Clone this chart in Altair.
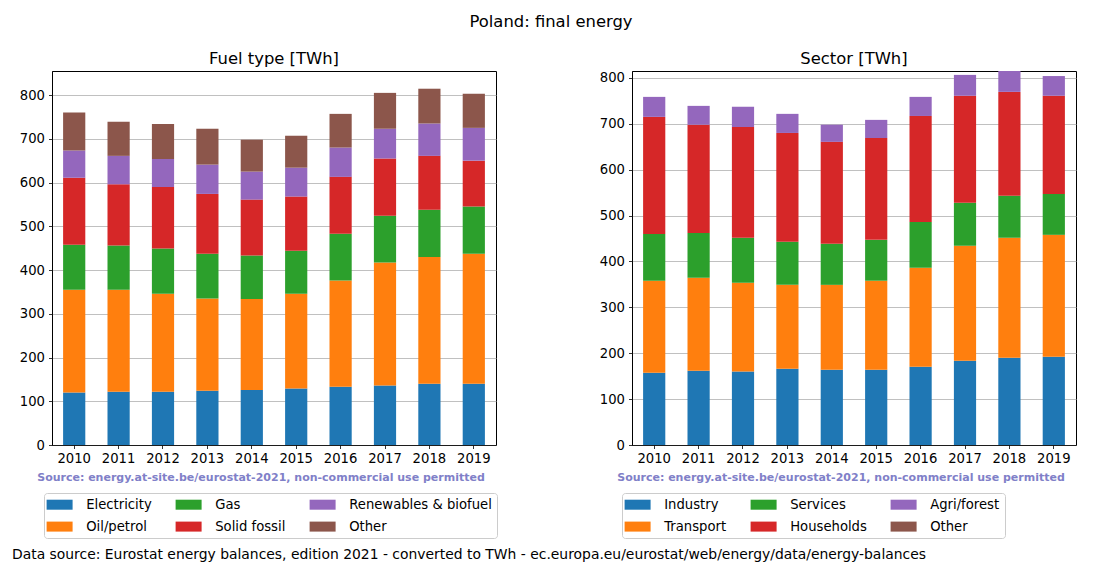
import altair as alt
import pandas as pd

years = [str(y) for y in range(2010, 2020)]

# Fuel type [TWh]
fuel_names = ["Electricity", "Oil/petrol", "Gas", "Solid fossil", "Renewables & biofuel", "Other"]
electricity = [120, 122, 122, 124, 126, 129, 133, 136, 140, 140]
oil_petrol = [235, 233, 224, 211, 208, 217, 243, 281, 290, 297]
gas = [103, 101, 103, 102, 99, 98, 107, 107, 108, 108]
solid_fossil = [153, 140, 141, 137, 128, 124, 130, 131, 123, 105]
renewables = [62, 65, 64, 67, 64, 66, 67, 68, 74, 75]
other_fuel = [87, 78, 80, 82, 73, 73, 77, 82, 79.5, 78]

# Sector [TWh]
sector_names = ["Industry", "Transport", "Services", "Households", "Agri/forest", "Other"]
industry = [157.5, 162, 160, 166, 164, 164, 170.6, 183.7, 190, 192.4]
transport = [200.5, 202.4, 193.5, 183, 185, 194, 215.4, 250.3, 261.5, 265.6]
services = [102, 97.6, 98, 94, 89.5, 89, 100, 94, 91.5, 89]
households = [255, 236, 241.5, 237, 222.1, 222, 231, 233, 226.5, 214]
agri_forest = [43.6, 41, 44, 41.6, 37.4, 39.5, 41.6, 45.5, 45.5, 43]
other_sector = [0, 0, 0, 0, 0, 0, 0, 0, 0, 0]

tab = ["#1f77b4", "#ff7f0e", "#2ca02c", "#d62728", "#9467bd", "#8c564b"]

FONT = "DejaVu Sans"
W, H = 444, 374
LBL = 13.2


def long_df(names, series):
    rows = []
    for i, (n, vals) in enumerate(zip(names, series)):
        for y, v in zip(years, vals):
            rows.append({"year": y, "cat": n, "value": v, "idx": i})
    return pd.DataFrame(rows)


def text_layer(txt, x, y, size, align="center", weight="normal", color="black"):
    return alt.Chart(pd.DataFrame({"t": [txt]})).mark_text(
        align=align, baseline="alphabetic", font=FONT, fontSize=size,
        fontWeight=weight, color=color
    ).encode(text="t:N", x=alt.value(x), y=alt.value(y))


def panel(names, series, ymax, title, legend_x, extra=None):
    df = long_df(names, series)
    bars = alt.Chart(df).mark_bar(clip=True).encode(
        x=alt.X("year:N", sort=years,
                scale=alt.Scale(paddingInner=0.5, paddingOuter=0.25),
                axis=alt.Axis(title=None, labelAngle=0, grid=False)),
        y=alt.Y("value:Q", stack="zero",
                scale=alt.Scale(domain=[0, ymax], nice=False, zero=True),
                axis=alt.Axis(title=None, values=list(range(0, 801, 100)),
                              grid=True, minExtent=40, maxExtent=40)),
        color=alt.Color("cat:N", scale=alt.Scale(domain=names, range=tab),
                        legend=alt.Legend(
                            title=None, orient="none", legendX=legend_x, legendY=422,
                            columns=3, columnPadding=23, rowPadding=8,
                            symbolType="M-2.6,-1H2.6V1H-2.6Z", symbolSize=100,
                            symbolOffset=4, labelOffset=20,
                            symbolStrokeWidth=0, symbolOpacity=1,
                            labelFont=FONT, labelFontSize=LBL, labelColor="black",
                            fillColor="white", strokeColor="#cccccc", padding=5,
                            cornerRadius=3)),
        order=alt.Order("idx:Q", sort="ascending"),
    )
    layers = [bars,
              text_layer(title, W / 2, -7, 16.4),
              text_layer("Source: energy.at-site.be/eurostat-2021, non-commercial use permitted",
                         209, 410, 11, weight="bold", color="#8080c8")]
    if extra:
        layers += extra
    return alt.layer(*layers).properties(width=W, height=H)


left = panel(fuel_names,
             [electricity, oil_petrol, gas, solid_fossil, renewables, other_fuel],
             855, "Fuel type [TWh]", -8,
             extra=[text_layer("Poland: final energy", 499, -44, 16.4),
                    text_layer("Data source: Eurostat energy balances, edition 2021 - converted to TWh - ec.europa.eu/eurostat/web/energy/data/energy-balances",
                               -40, 488, 13.9, align="left")])
right = panel(sector_names,
              [industry, transport, services, households, agri_forest, other_sector],
              815, "Sector [TWh]", -10)

chart = alt.hconcat(left, right, spacing=136, bounds="flush").resolve_scale(
    color="independent"
).properties(
    padding={"left": 3, "top": 5, "right": 5, "bottom": 5}
).configure_view(
    stroke="black", strokeWidth=1
).configure_axis(
    domainColor="black", tickColor="black", tickSize=3.5, tickWidth=0.8,
    labelFont=FONT, labelFontSize=LBL, labelColor="black", labelPadding=4,
    gridColor="#b0b0b0", gridWidth=0.8, zindex=1, domainWidth=0.8
)

chart.save("out.html", embed_options={"renderer": "svg", "actions": False})
